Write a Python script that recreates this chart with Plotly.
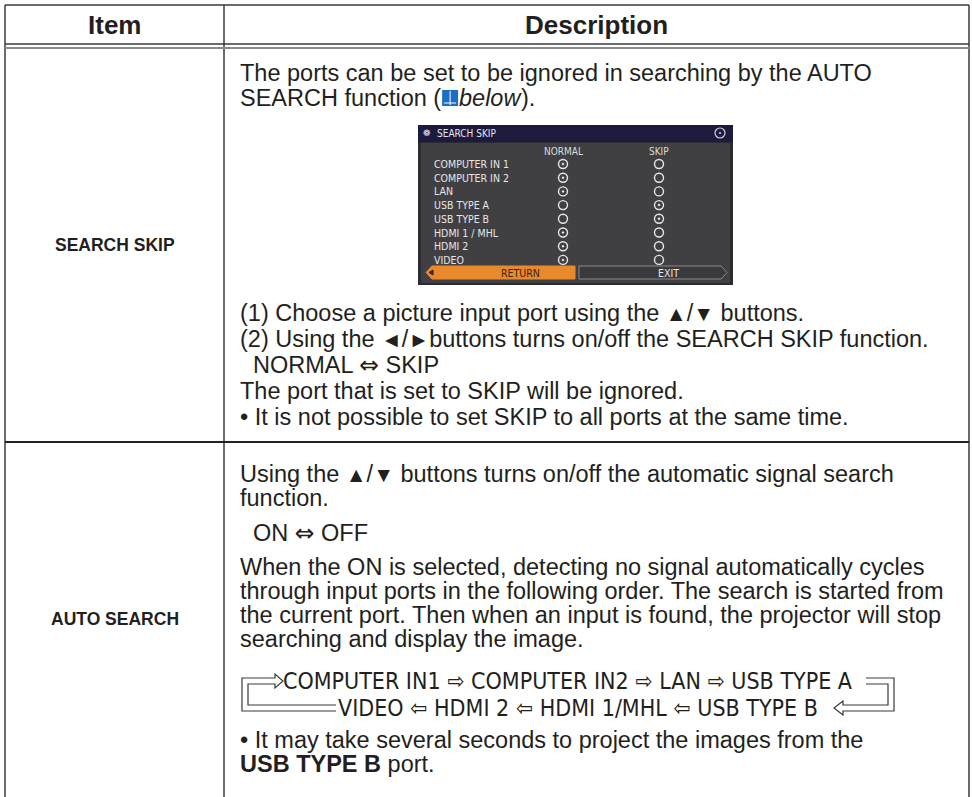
import plotly.graph_objects as go

W, H = 972, 797
FONT = "Liberation Sans, Arial, sans-serif"
NARROW = "Liberation Sans Narrow, Arial Narrow, DejaVu Sans Condensed, sans-serif"
TXT = "#231f20"
LINE = "#3a3a3a"
BODY = 23.5

TRI = '<span style="font-size:21px">{}</span>'
DARR = '<span style="font-family:DejaVu Sans">\u21d4</span>'

# ---------------- data ----------------
header_labels = ["Item", "Description"]
item_labels = ["SEARCH SKIP", "AUTO SEARCH"]

skip_intro = ["The ports can be set to be ignored in searching by the AUTO",
              "SEARCH function ("]
skip_lines = ["(1) Choose a picture input port using the " + TRI.format("\u25b2") + "/"
              + TRI.format("\u25bc") + " buttons.",
              "(2) Using the " + TRI.format("\u25c4") + "/" + TRI.format("\u25ba")
              + "buttons turns on/off the SEARCH SKIP function.",
              "  NORMAL " + DARR + " SKIP",
              "The port that is set to SKIP will be ignored.",
              "\u2022 It is not possible to set SKIP to all ports at the same time."]

auto_lines_a = ["Using the " + TRI.format("\u25b2") + "/" + TRI.format("\u25bc")
                + " buttons turns on/off the automatic signal search",
                "function."]
auto_toggle = "  ON " + DARR + " OFF"
auto_lines_b = ["When the ON is selected, detecting no signal automatically cycles",
                "through input ports in the following order. The search is started from",
                "the current port. Then when an input is found, the projector will stop",
                "searching and display the image."]
order_top = "COMPUTER IN1 \u21e8 COMPUTER IN2 \u21e8 LAN \u21e8 USB TYPE A"
order_bottom = "VIDEO \u21e6 HDMI 2 \u21e6 HDMI 1/MHL \u21e6 USB TYPE B"
auto_note = ["\u2022 It may take several seconds to project the images from the",
             "<b>USB TYPE B</b> port."]

menu_title = "SEARCH SKIP"
menu_cols = ["NORMAL", "SKIP"]
menu_ports = ["COMPUTER IN 1", "COMPUTER IN 2", "LAN", "USB TYPE A",
              "USB TYPE B", "HDMI 1 / MHL", "HDMI 2", "VIDEO"]
menu_skip = [False, False, False, True, True, False, False, False]
menu_buttons = ["RETURN", "EXIT"]

# Helvetica / Liberation Sans advance widths (1/1000 em), for inline placement
AFM = {' ': 278, ',': 278, '.': 278, '/': 278, '(': 333, ')': 333, '-': 333,
       'A': 667, 'B': 667, 'C': 722, 'D': 722, 'E': 667, 'F': 611, 'G': 778, 'H': 722,
       'I': 278, 'J': 500, 'K': 667, 'L': 556, 'M': 833, 'N': 722, 'O': 778, 'P': 667,
       'Q': 778, 'R': 722, 'S': 667, 'T': 611, 'U': 722, 'V': 667, 'W': 944, 'X': 667,
       'Y': 667, 'Z': 611, 'a': 556, 'b': 556, 'c': 500, 'd': 556, 'e': 556, 'f': 278,
       'g': 556, 'h': 556, 'i': 222, 'j': 222, 'k': 500, 'l': 222, 'm': 833, 'n': 556,
       'o': 556, 'p': 556, 'q': 556, 'r': 333, 's': 500, 't': 278, 'u': 556, 'v': 500,
       'w': 722, 'x': 500, 'y': 500, 'z': 500}


def tw(s, size):
    return sum(AFM.get(c, 556) for c in s) * size / 1000.0


# ---------------- figure ----------------
fig = go.Figure()
shapes = []
ann = []


def txt(x, y, s, size=BODY, bold=False, anchor="left", color=TXT, font=FONT, italic=False):
    if bold:
        s = "<b>" + s + "</b>"
    if italic:
        s = "<i>" + s + "</i>"
    ann.append(dict(x=x, y=y, xref="x", yref="y", text=s, showarrow=False,
                    xanchor=anchor, yanchor="middle", borderpad=0, borderwidth=0,
                    font=dict(family=font, size=size, color=color)))


def line(x0, y0, x1, y1, color=LINE, width=1.5, layer="above"):
    shapes.append(dict(type="line", x0=x0, y0=y0, x1=x1, y1=y1, xref="x", yref="y",
                       line=dict(color=color, width=width), layer=layer))


def rect(x0, y0, x1, y1, fill, color=None, width=0, layer="below"):
    shapes.append(dict(type="rect", x0=x0, y0=y0, x1=x1, y1=y1, xref="x", yref="y",
                       fillcolor=fill, line=dict(color=color or fill, width=width), layer=layer))


def path(d, color=LINE, width=1.2, fill="rgba(0,0,0,0)", layer="above"):
    shapes.append(dict(type="path", path=d, xref="x", yref="y",
                       line=dict(color=color, width=width), fillcolor=fill, layer=layer))


# table frame
XL, XM, XR = 5, 224, 969
YT, YH1, YH2, YS = 5, 44, 48, 442
line(XL, YT, XR, YT)
line(XL, YT, XL, H + 5)
line(XR, YT, XR, H + 5)
line(XM, YT, XM, H + 5)
line(XL, YH1, XR, YH1, width=1.3)
line(XL, YH2, XR, YH2, color="#8a8a8a", width=2)
line(XL, YS, XR, YS, color="#222", width=2)

# header
txt((XL + XM) / 2, 25, header_labels[0], size=26, bold=True, anchor="center")
txt((XM + XR) / 2, 25, header_labels[1], size=26, bold=True, anchor="center")

# item labels
txt((XL + XM) / 2, 245, item_labels[0], size=17.5, bold=True, anchor="center")
txt((XL + XM) / 2, 619, item_labels[1], size=17.5, bold=True, anchor="center")

# --- SEARCH SKIP description ---
TX = 240
txt(TX, 73, skip_intro[0])
txt(TX, 98, skip_intro[1])
bx = TX + tw(skip_intro[1], BODY) + 1
# book icon
rect(bx, 90, bx + 16, 106, "#1a6fc0", layer="above")
line(bx + 8, 91, bx + 8, 105, color="white", width=1)
line(bx + 2, 103, bx + 14, 103, color="white", width=1)
txt(bx + 17, 98, "below", italic=True)
txt(bx + 17 + tw("below", BODY), 98, ").")

for i, s in enumerate(skip_lines):
    txt(TX, 313 + i * 26, s)

# --- menu screenshot ---
MX0, MX1, MY0, MY1 = 418, 733, 125, 285
rect(MX0, MY0, MX1, MY1, "#2b2b33")
rect(MX0, MY0, MX1, 142, "#1c1b3d")
rect(421, 143, 730, 283, "#404043")
txt(437, 133, menu_title, size=10, color="#e4e4ee", font=NARROW)
txt(423, 133, "\u2741", size=9, color="#e4e4ee")
RADIO = "#e8e8e8"
fig.add_trace(go.Scatter(x=[720], y=[133], mode="markers",
                         marker=dict(symbol="circle-open-dot", size=10, color="#d0d0e0",
                                     line=dict(color="#d0d0e0", width=1.2)),
                         hoverinfo="skip", showlegend=False))
col_x = [563, 659]
for cx, c in zip(col_x, menu_cols):
    txt(cx, 151, c, size=10, color="#dcdcdc", font=NARROW, anchor="center")
ry = [164 + i * 13.7 for i in range(len(menu_ports))]
for y, p in zip(ry, menu_ports):
    txt(434, y, p, size=10.5, color="#e6e6e6", font=NARROW)
sel_x, sel_y, un_x, un_y = [], [], [], []
for y, sk in zip(ry, menu_skip):
    if sk:
        sel_x.append(col_x[1]); sel_y.append(y); un_x.append(col_x[0]); un_y.append(y)
    else:
        sel_x.append(col_x[0]); sel_y.append(y); un_x.append(col_x[1]); un_y.append(y)
fig.add_trace(go.Scatter(x=sel_x, y=sel_y, mode="markers",
                         marker=dict(symbol="circle-open-dot", size=9, color=RADIO,
                                     line=dict(color=RADIO, width=1.4)),
                         hoverinfo="skip", showlegend=False))
fig.add_trace(go.Scatter(x=un_x, y=un_y, mode="markers",
                         marker=dict(symbol="circle-open", size=9, color=RADIO,
                                     line=dict(color=RADIO, width=1.4)),
                         hoverinfo="skip", showlegend=False))
# buttons
path("M 432,266 L 575,266 L 575,279 L 432,279 L 426,272.5 Z", color="#e8892c", width=1,
     fill="#e8892c", layer="below")
path("M 433,270 L 429,272.5 L 433,275 Z", color="#3a2410", width=1, fill="#3a2410")
txt(520, 272.5, menu_buttons[0], size=10.5, color="#3a2410", font=NARROW, anchor="center")
path("M 579,266 L 721,266 L 727,272.5 L 721,279 L 579,279 Z", color="#8a8a8a", width=1,
     fill="#3a3a3d", layer="below")
txt(668, 272.5, menu_buttons[1], size=10.5, color="#e8e8e8", font=NARROW, anchor="center")

# --- AUTO SEARCH description ---
txt(TX, 474, auto_lines_a[0])
txt(TX, 498, auto_lines_a[1])
txt(TX, 533, auto_toggle)
for i, s in enumerate(auto_lines_b):
    txt(TX, 567 + i * 24, s)
ORD = 23
Y1, Y2 = 681, 708
txt(283, Y1, order_top, size=ORD, font=NARROW)
txt(338, Y2, order_bottom, size=ORD, font=NARROW)
# loop arrows (double line)
g = 3
path(f"M 336,{Y2+g} L 242,{Y2+g} L 242,{Y1-g} L 275,{Y1-g} L 275,{Y1-7} "
     f"L 283,{Y1} L 275,{Y1+7} L 275,{Y1+g} L 248,{Y1+g} L 248,{Y2-g} L 336,{Y2-g}")
path(f"M 866,{Y1-g} L 894,{Y1-g} L 894,{Y2+g} L 843,{Y2+g} L 843,{Y2+7} "
     f"L 834,{Y2} L 843,{Y2-7} L 843,{Y2-g} L 888,{Y2-g} L 888,{Y1+g} L 866,{Y1+g}")
txt(TX, 740, auto_note[0])
txt(TX, 764, auto_note[1])

fig.update_layout(
    width=W, height=H, margin=dict(l=0, r=0, t=0, b=0, pad=0),
    paper_bgcolor="white", plot_bgcolor="white",
    xaxis=dict(range=[0, W], visible=False, fixedrange=True),
    yaxis=dict(range=[H, 0], visible=False, fixedrange=True),
    shapes=shapes, annotations=ann, showlegend=False,
)
fig.write_html("out.html", config=dict(displayModeBar=False),
               post_script="document.body.style.margin='0';document.body.style.overflow='hidden';")
